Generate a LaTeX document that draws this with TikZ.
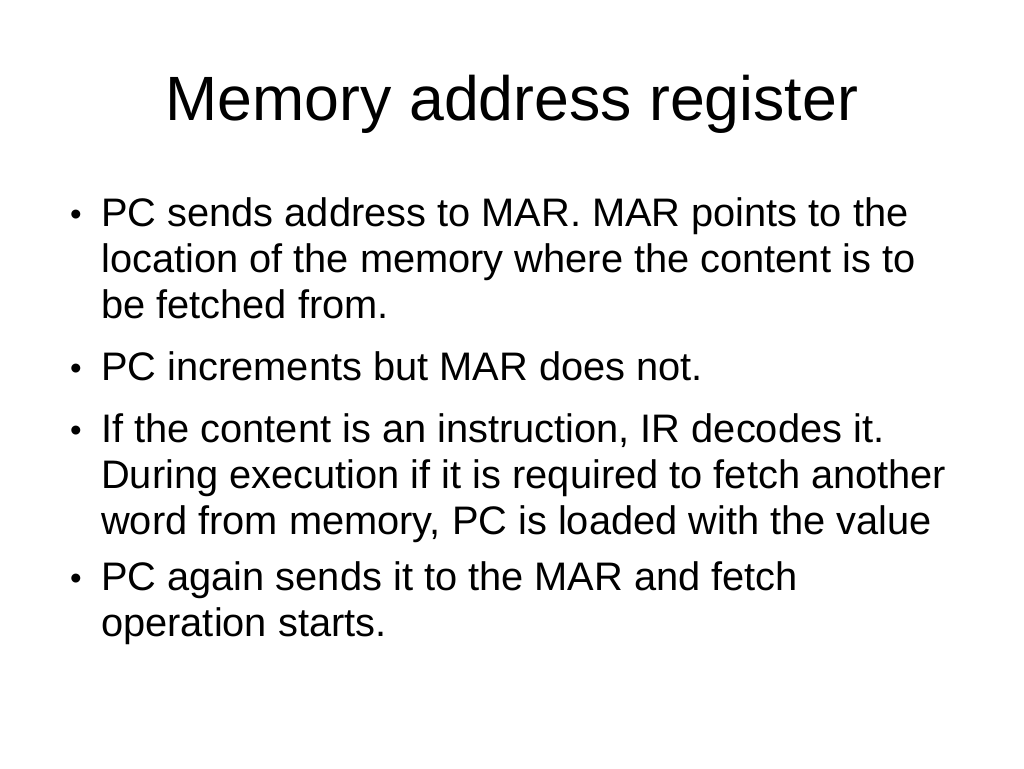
\documentclass[tikz,border=0pt]{standalone}
\usepackage{fontspec}
\setmainfont{Liberation Sans}
\begin{document}
\begin{tikzpicture}[x=1pt,y=-1pt,
  line/.style={anchor=base west,inner sep=0pt,font=\fontsize{39.8}{44}\selectfont},
  bul/.style={anchor=base west,inner sep=0pt,font=\fontsize{33}{40}\selectfont}]
\useasboundingbox[fill=white] (0,0) rectangle (1024,768);
\node[anchor=base,inner sep=0pt,font=\fontsize{62.6}{70}\selectfont] (title) at (512,120) {Memory address register};
\foreach \y/\n in {225/b1,379/b2,441/b3,589/b4}
  \node[bul] (\n) at (70,\y) {•};
\node[line] (l1) at (101,226) {PC sends address to MAR. MAR points to the};
\node[line] (l2) at (101,272) {location of the memory where the content is to};
\node[line] (l3) at (101,318) {be fetched from.};
\node[line] (l4) at (101,380) {PC increments but MAR does not.};
\node[line] (l5) at (101,442) {If the content is an instruction, IR decodes it.};
\node[line] (l6) at (101,488) {During execution if it is required to fetch another};
\node[line] (l7) at (101,534) {word from memory, PC is loaded with the value};
\node[line] (l8) at (101,590) {PC again sends it to the MAR and fetch};
\node[line] (l9) at (101,636) {operation starts.};
\end{tikzpicture}
\end{document}
